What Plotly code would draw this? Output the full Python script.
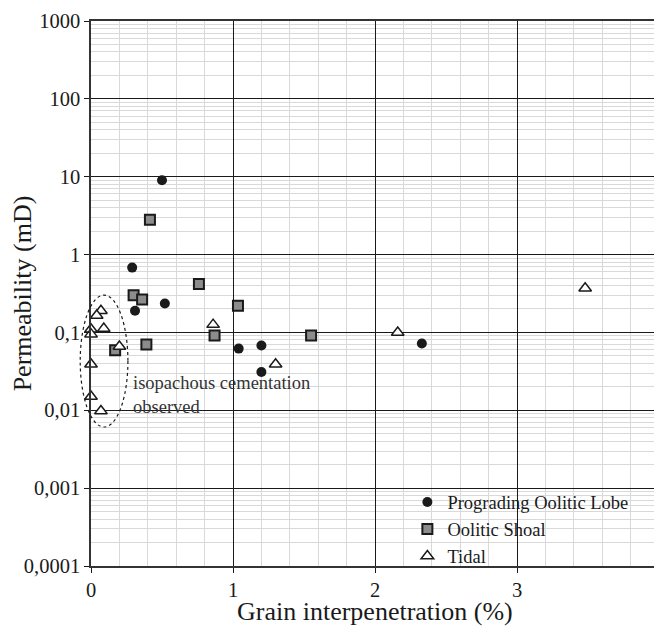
import plotly.graph_objects as go

# Prograding Oolitic Lobe
lobe_x = [0.50, 0.29, 0.31, 0.52, 1.04, 1.20, 1.20, 2.33]
lobe_y = [9.0, 0.68, 0.19, 0.235, 0.062, 0.068, 0.031, 0.072]

# Oolitic Shoal
shoal_x = [0.415, 0.30, 0.36, 0.76, 1.035, 0.87, 0.39, 0.17, 1.55]
shoal_y = [2.8, 0.30, 0.264, 0.42, 0.22, 0.091, 0.07, 0.059, 0.091]

# Tidal
tidal_x = [3.48, 2.16, 0.86, 1.30, 0.20, 0.07, 0.04, 0.09, 0.0, 0.0, 0.0, 0.0, 0.07]
tidal_y = [0.37, 0.10, 0.126, 0.039, 0.066, 0.19, 0.165, 0.112, 0.11, 0.095, 0.039, 0.015, 0.0098]

y_tickvals = [0.0001, 0.001, 0.01, 0.1, 1, 10, 100, 1000]
y_ticktext = ["0,0001", "0,001", "0,01", "0,1", "1", "10", "100", "1000"]
x_tickvals = [0, 1, 2, 3, 4]

FONT = "Liberation Serif, Times New Roman, serif"
INK = "#1a1a1a"

fig = go.Figure()
fig.add_trace(go.Scatter(
    x=lobe_x, y=lobe_y, mode="markers", name="Prograding Oolitic Lobe",
    marker=dict(symbol="circle", size=10, color=INK, line=dict(width=0)),
    cliponaxis=False))
fig.add_trace(go.Scatter(
    x=shoal_x, y=shoal_y, mode="markers", name="Oolitic Shoal",
    marker=dict(symbol="square", size=10, color="#8c8c8c", line=dict(width=2, color=INK)),
    cliponaxis=False))
fig.add_trace(go.Scatter(
    x=tidal_x, y=tidal_y, mode="markers", name="Tidal",
    marker=dict(symbol="triangle-up", size=11, color="white", line=dict(width=1.5, color=INK)),
    cliponaxis=False))

# white backing for the legend (hides grid lines)
fig.add_shape(type="rect", xref="x domain", yref="y domain",
              x0=0.583, x1=0.956, y0=0.007, y1=0.128,
              fillcolor="white", line=dict(width=0), layer="below")

# dashed ellipse around the isopachous-cemented samples
fig.add_shape(type="circle", xref="x domain", yref="y domain",
              x0=-0.019, x1=0.065, y0=0.255, y1=0.497,
              line=dict(color=INK, width=1.2, dash="dot"), layer="above")

fig.add_annotation(xref="x domain", yref="y domain", x=0.07, y=0.314,
                   text="isopachous cementation<br>observed", showarrow=False,
                   xanchor="left", yanchor="middle", align="left",
                   font=dict(family=FONT, size=18.5, color="#333333"))

# axis titles
fig.add_annotation(xref="x domain", yref="y domain", x=-0.12, y=0.5,
                   text="Permeability (mD)", textangle=-90, showarrow=False,
                   xanchor="center", yanchor="middle",
                   font=dict(family=FONT, size=26, color=INK))
fig.add_annotation(xref="x domain", yref="y domain", x=0.5, y=-0.083,
                   text="Grain interpenetration (%)", showarrow=False,
                   xanchor="center", yanchor="middle",
                   font=dict(family=FONT, size=26, color=INK))

fig.update_layout(
    width=662, height=626,
    margin=dict(l=83, r=11, t=13, b=68, autoexpand=False),
    paper_bgcolor="white", plot_bgcolor="white",
    font=dict(family=FONT, size=20.5, color=INK),
    showlegend=True,
    legend=dict(x=0.557, y=0.1515, xanchor="left", yanchor="top",
                bgcolor="rgba(0,0,0,0)", font=dict(family=FONT, size=18.5, color=INK),
                itemwidth=30, tracegroupgap=0, borderwidth=0),
    xaxis=dict(
        range=[0, 4], tickvals=x_tickvals, ticks="outside", ticklen=5, tickcolor=INK,
        showgrid=True, gridcolor=INK, gridwidth=1,
        showline=True, linecolor="#333333", linewidth=1.5, mirror=True,
        zeroline=False, automargin=False, ticklabeloverflow="allow",
        minor=dict(dtick=0.2, showgrid=True, gridcolor="#d9d9d9", gridwidth=1),
        tickfont=dict(family=FONT, size=20.5)),
    yaxis=dict(
        type="log", range=[-4, 3], tickvals=y_tickvals, ticktext=y_ticktext,
        ticks="outside", ticklen=5, tickcolor=INK,
        showgrid=True, gridcolor=INK, gridwidth=1,
        showline=True, linecolor="#333333", linewidth=1.5, mirror=True,
        zeroline=False, automargin=False, ticklabeloverflow="allow",
        minor=dict(dtick="D1", showgrid=True, gridcolor="#d9d9d9", gridwidth=1),
        tickfont=dict(family=FONT, size=20.5)),
)

fig.write_html("out.html")
